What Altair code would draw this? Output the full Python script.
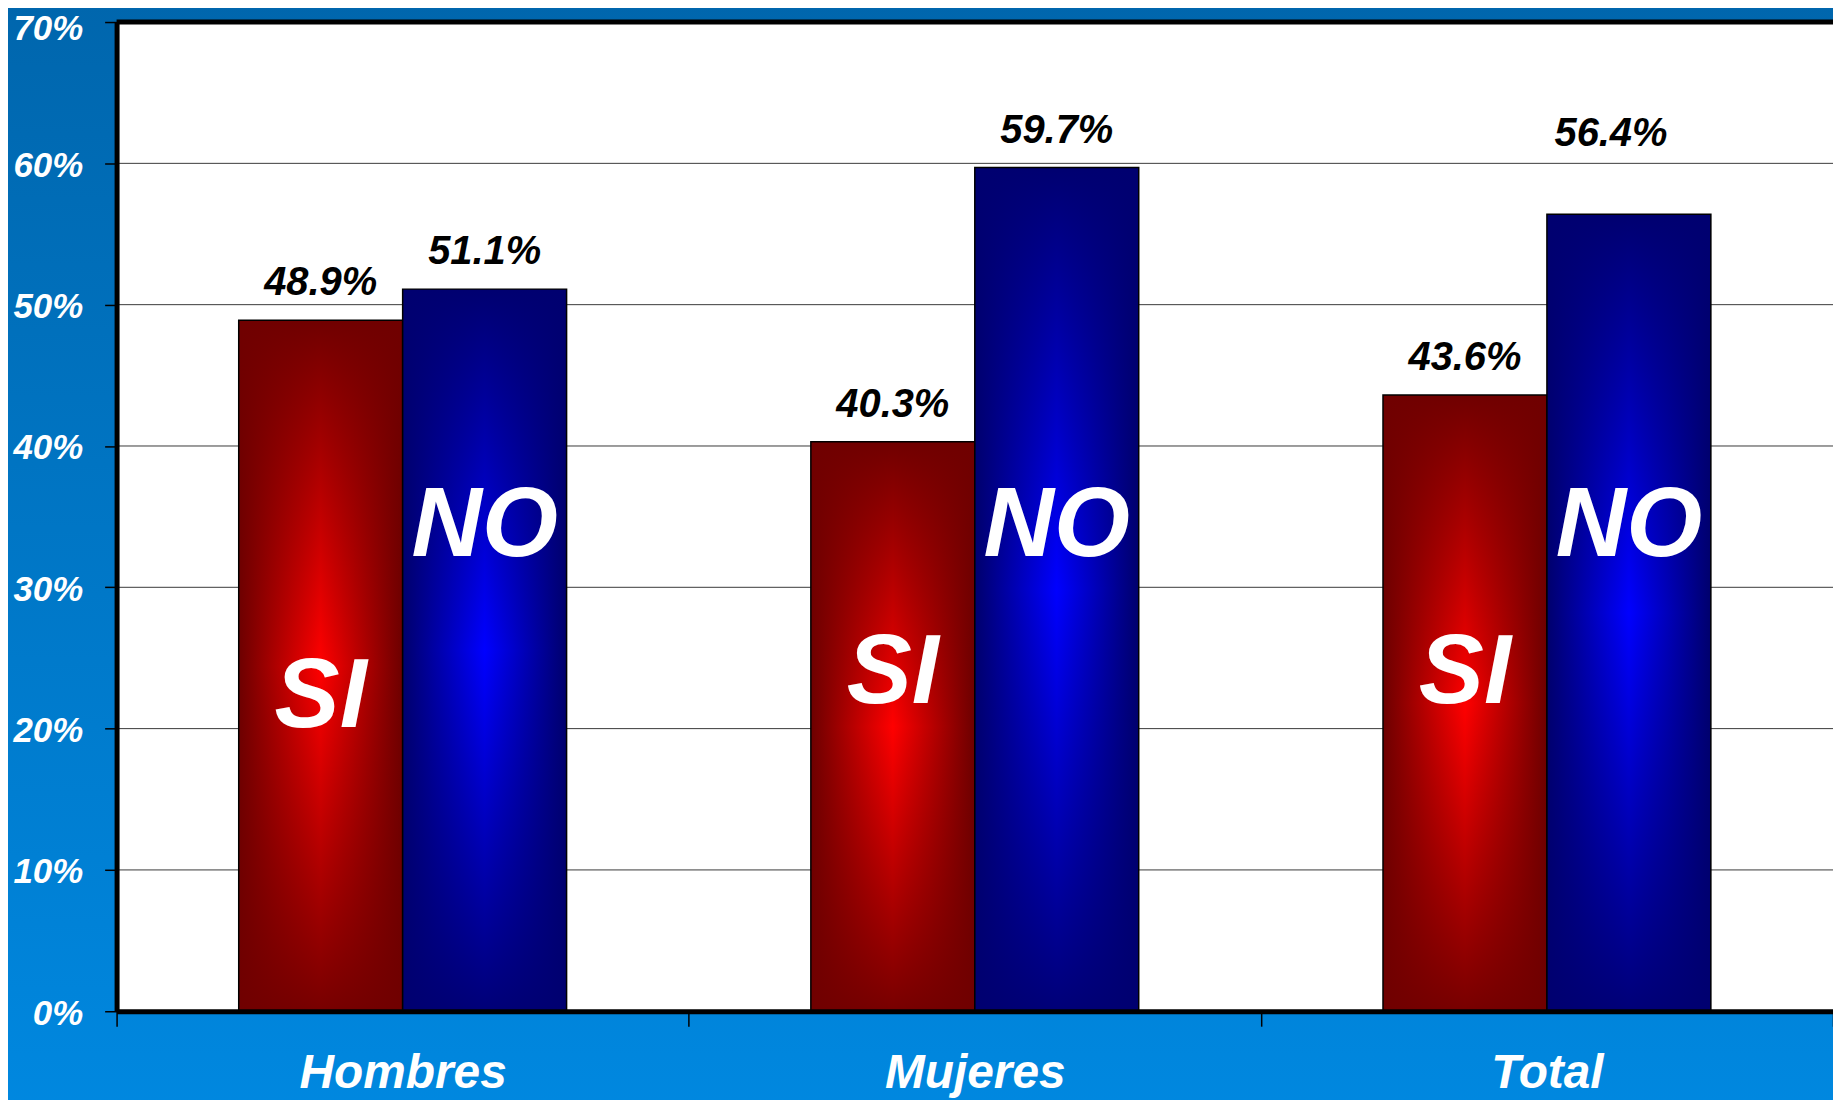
import altair as alt
import pandas as pd

# ---------------- data ----------------
categorias = ["Hombres", "Mujeres", "Total"]
valores_si = [48.9, 40.3, 43.6]
valores_no = [51.1, 59.7, 56.4]
# baseline (in % units) of the big white "SI" / "NO" words inside the bars
texto_si_y = [20.1, 21.8, 21.8]
texto_no_y = [32.2, 32.2, 32.2]
marcas_y = [0, 10, 20, 30, 40, 50, 60, 70]
lineas_guia = [10, 20, 30, 40, 50, 60]
respuestas = ["SI", "NO"]

rows = []
for c, s, n, ys, yn in zip(categorias, valores_si, valores_no, texto_si_y, texto_no_y):
    rows.append({"categoria": c, "respuesta": "SI", "valor": s, "etiqueta": f"{s:.1f}%", "pos": ys})
    rows.append({"categoria": c, "respuesta": "NO", "valor": n, "etiqueta": f"{n:.1f}%", "pos": yn})
df = pd.DataFrame(rows)

W, H = 1723, 993
PAD = {"left": 109, "top": 12, "right": 0, "bottom": 87}

# ---------------- styles ----------------
bg_grad = {"gradient": "linear", "x1": 0, "y1": 0, "x2": 0, "y2": 1,
           "stops": [{"offset": 0, "color": "#0066ad"},
                     {"offset": 1, "color": "#0088e0"}]}


def h_grad(dark, bright):
    return {"gradient": "linear", "x1": 0, "y1": 0, "x2": 1, "y2": 0,
            "stops": [{"offset": 0, "color": dark},
                      {"offset": 0.5, "color": bright},
                      {"offset": 1, "color": dark}]}


def v_grad(rgb):
    return {"gradient": "linear", "x1": 0, "y1": 0, "x2": 0, "y2": 1,
            "stops": [{"offset": 0, "color": f"rgba({rgb},1)"},
                      {"offset": 0.5, "color": f"rgba({rgb},0)"},
                      {"offset": 1, "color": f"rgba({rgb},0.95)"}]}


red_h = h_grad("#6c0000", "#ff0000")
red_v = v_grad("112,0,0")
blue_h = h_grad("#00006c", "#0000ff")
blue_v = v_grad("0,0,112")

FONT = "Liberation Sans, Arial, sans-serif"

x_enc = alt.X(
    "categoria:N", sort=categorias,
    scale=alt.Scale(domain=categorias, paddingInner=0, paddingOuter=0),
    axis=alt.Axis(title=None, labelAngle=0, labelFont=FONT, labelFontSize=48,
                  labelFontStyle="italic", labelFontWeight="bold", labelColor="white",
                  labelBaseline="alphabetic", labelPadding=62, labelLimit=0,
                  tickBand="extent", tickSize=15, tickColor="black", tickWidth=1.5,
                  domainColor="black", domainWidth=5, grid=False, zindex=1),
)
xo_enc = alt.XOffset("respuesta:N", sort=respuestas,
                     scale=alt.Scale(domain=respuestas, paddingInner=0, paddingOuter=0.745))
y_axis = alt.Axis(title=None, values=marcas_y, labelExpr="datum.value + '%'",
                  labelFont=FONT, labelFontSize=35, labelFontStyle="italic",
                  labelFontWeight="bold", labelColor="white", labelPadding=22,
                  labelOffset={"condition": {"test": "datum.value == 70", "value": 7},
                               "value": 2},
                  tickSize=12, tickColor="black", tickWidth=1.5,
                  domainColor="black", domainWidth=5, grid=False, zindex=1)
y_scale = alt.Scale(domain=[0, 70], nice=False)
y_enc = alt.Y("valor:Q", scale=y_scale, axis=y_axis)

one = pd.DataFrame({"k": [0]})

fondo = alt.Chart(one).mark_rect(fill=bg_grad).encode(
    x=alt.value(-120), x2=alt.value(W + 20), y=alt.value(-20), y2=alt.value(H + 110))
area = alt.Chart(one).mark_rect(fill="white").encode(
    x=alt.value(0), x2=alt.value(W), y=alt.value(0), y2=alt.value(H))

guias = alt.Chart(pd.DataFrame({"valor": lineas_guia})).mark_rule(
    color="#3a3a3a", strokeWidth=1).encode(y=y_enc)
borde_sup = alt.Chart(pd.DataFrame({"valor": [70]})).mark_rule(
    color="black", strokeWidth=5).encode(y=y_enc)

base = alt.Chart(df)
si = base.transform_filter("datum.respuesta == 'SI'")
no = base.transform_filter("datum.respuesta == 'NO'")

si_h = si.mark_bar(fill=red_h).encode(x=x_enc, xOffset=xo_enc, y=y_enc)
si_v = si.mark_bar(fill=red_v, stroke="black", strokeWidth=1.5).encode(x=x_enc, xOffset=xo_enc, y=y_enc)
no_h = no.mark_bar(fill=blue_h).encode(x=x_enc, xOffset=xo_enc, y=y_enc)
no_v = no.mark_bar(fill=blue_v, stroke="black", strokeWidth=1.5).encode(x=x_enc, xOffset=xo_enc, y=y_enc)

text_style = dict(baseline="alphabetic", align="center", font=FONT, fontSize=40,
                  fontStyle="italic", fontWeight="bold", color="black")
es_total_no = "datum.categoria == 'Total' && datum.respuesta == 'NO'"
valores = base.transform_filter(f"!({es_total_no})").mark_text(dy=-25, **text_style).encode(
    x=x_enc, xOffset=xo_enc, y=y_enc, text="etiqueta:N")
valor_total_no = base.transform_filter(es_total_no).mark_text(dy=-68, dx=-18, **text_style).encode(
    x=x_enc, xOffset=xo_enc, y=y_enc, text="etiqueta:N")

palabras = base.mark_text(
    baseline="alphabetic", align="center", font=FONT, fontSize=98,
    fontStyle="italic", fontWeight="bold", color="white"
).encode(x=x_enc, xOffset=xo_enc,
         y=alt.Y("pos:Q", scale=y_scale, axis=y_axis), text="respuesta:N")

chart = alt.layer(
    fondo, area, guias, si_h, si_v, no_h, no_v, borde_sup, valores, valor_total_no, palabras
).properties(
    width=W, height=H, padding=PAD,
    autosize=alt.AutoSizeParams(type="none"),
).configure_view(stroke=None).configure(background="#0066ad")

chart.save("out.html", embed_options={"renderer": "svg", "actions": False})
